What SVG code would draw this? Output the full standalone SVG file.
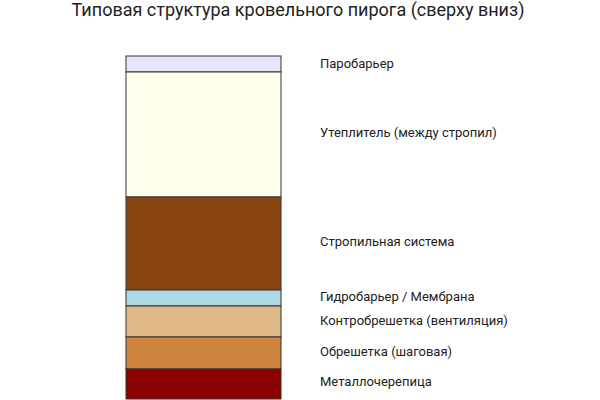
<svg xmlns="http://www.w3.org/2000/svg" width="600" height="400" viewBox="0 0 600 400">
<style>
.layer{stroke:#333;stroke-width:1}
.lbl{font-family:Roboto,"Liberation Sans",sans-serif;font-size:13px;fill:#222;dominant-baseline:middle}
.title{font-family:Roboto,"Liberation Sans",sans-serif;font-size:18px;fill:#222;text-anchor:middle}
</style>
<rect width="600" height="400" fill="#fff"/>
<text class="title" x="298" y="16">Типовая структура кровельного пирога (сверху вниз)</text>
<g id="layer-paro"><rect class="layer" x="126" y="56" width="155" height="16" fill="#E6E6FA"/><text class="lbl" x="320" y="65">Паробарьер</text></g>
<g id="layer-insul"><rect class="layer" x="126" y="72" width="155" height="125" fill="#FFFFEB"/><text class="lbl" x="320" y="134">Утеплитель (между стропил)</text></g>
<g id="layer-rafter"><rect class="layer" x="126" y="197" width="155" height="93" fill="#8B4513"/><text class="lbl" x="320" y="243">Стропильная система</text></g>
<g id="layer-hydro"><rect class="layer" x="126" y="290" width="155" height="16" fill="#ADD8E6"/><text class="lbl" x="320" y="298">Гидробарьер / Мембрана</text></g>
<g id="layer-counter"><rect class="layer" x="126" y="306" width="155" height="31" fill="#DEB887"/><text class="lbl" x="320" y="322">Контробрешетка (вентиляция)</text></g>
<g id="layer-batten"><rect class="layer" x="126" y="337" width="155" height="32" fill="#CD853F"/><text class="lbl" x="320" y="353">Обрешетка (шаговая)</text></g>
<g id="layer-metal"><rect class="layer" x="126" y="369" width="155" height="30" fill="#8B0000"/><text class="lbl" x="320" y="383">Металлочерепица</text></g>
<g id="connectors"></g>
</svg>
